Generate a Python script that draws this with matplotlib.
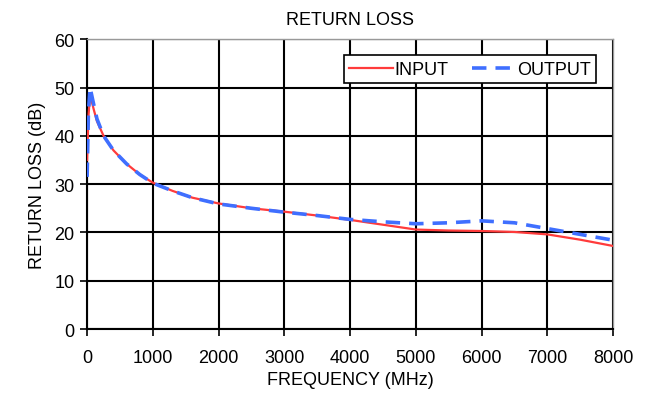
import matplotlib.pyplot as plt

plt.rcParams["font.family"] = ["Liberation Sans", "DejaVu Sans"]

# frequency points (MHz) and return loss (dB)
freq = [0, 20, 45, 100, 150, 250, 400, 600, 800, 1000, 1300, 1600, 2000,
        2500, 3000, 3500, 4000, 4500, 5000, 5500, 6000, 6500, 7000, 7500, 8000]
input_rl = [35.0, 44.0, 48.5, 45.5, 43.0, 40.0, 37.0, 34.2, 32.0, 30.3, 28.6,
            27.2, 26.0, 25.0, 24.3, 23.5, 22.6, 21.6, 20.6, 20.4, 20.3, 20.1,
            19.6, 18.5, 17.2]
output_rl = [31.5, 45.0, 50.0, 46.5, 43.5, 40.0, 37.0, 34.2, 32.0, 30.2, 28.6,
             27.2, 25.9, 25.0, 24.2, 23.5, 22.7, 22.2, 21.8, 22.0, 22.4, 22.0,
             20.8, 19.6, 18.4]

x_ticks = list(range(0, 8001, 1000))
y_ticks = list(range(0, 61, 10))

fig = plt.figure(figsize=(6.55, 4.06), dpi=100)
ax = fig.add_axes([0.133, 0.187, 0.803, 0.714])

ax.plot(freq, input_rl, color="#ff3b3b", lw=1.6, label="INPUT", zorder=3)
ax.plot(freq, output_rl, color="#3f6fff", lw=2.6, ls=(0, (4, 2.5)),
        label="OUTPUT", zorder=4)

ax.set_xlim(0, 8000)
ax.set_ylim(0, 60)
ax.set_xticks(x_ticks)
ax.set_yticks(y_ticks)
ax.grid(True, color="black", lw=1.5)
ax.set_axisbelow(True)
ax.tick_params(labelsize=13, length=5, width=1.2, color="black")
ax.tick_params(axis="x", pad=9)
ax.tick_params(axis="y", pad=4)

for side in ("top", "right"):
    ax.spines[side].set_color("#999999")
    ax.spines[side].set_linewidth(1.0)
for side in ("left", "bottom"):
    ax.spines[side].set_color("black")
    ax.spines[side].set_linewidth(1.5)

ax.set_title("RETURN LOSS", fontsize=13, pad=11)
ax.set_xlabel("FREQUENCY (MHz)", fontsize=13, labelpad=4)
ax.set_ylabel("RETURN LOSS (dB)", fontsize=13, labelpad=6)

leg = ax.legend(loc="upper right", ncol=2, fontsize=13, frameon=True,
                fancybox=False, handlelength=2.4, handletextpad=0.1,
                columnspacing=1.3, borderpad=0.3,
                bbox_to_anchor=(0.985, 0.975))
leg.get_frame().set_edgecolor("black")
leg.get_frame().set_linewidth(1.2)
leg.get_frame().set_alpha(1)

fig.savefig("out.png", dpi=100, facecolor="white")
